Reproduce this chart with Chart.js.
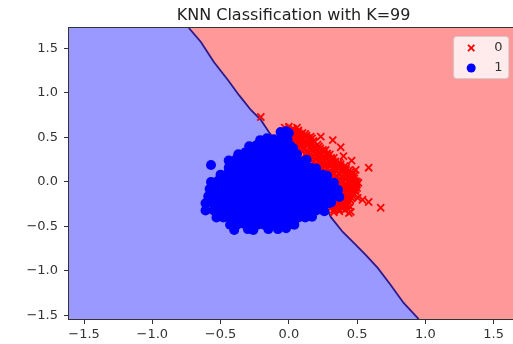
<!DOCTYPE html>
<html>
<head>
<meta charset="utf-8">
<script src="https://cdn.jsdelivr.net/npm/chart.js@4.4.0/dist/chart.umd.min.js"></script>
<style>
  html, body { margin: 0; padding: 0; background: #ffffff; overflow: hidden; }
  #wrap { position: absolute; left: 0; top: 0; width: 525px; height: 344px; }
</style>
</head>
<body>
<div id="wrap"><canvas id="knn" width="525" height="344" style="width:525px;height:344px"></canvas></div>
<script>
// ---- chart data ----
const chartTitle = 'KNN Classification with K=99';
const classLabels = ['0', '1'];

const xTicks = [-1.5, -1.0, -0.5, 0.0, 0.5, 1.0, 1.5];
const xTickLabels = ['−1.5', '−1.0', '−0.5', '0.0', '0.5', '1.0', '1.5'];
const yTicks = [-1.5, -1.0, -0.5, 0.0, 0.5, 1.0, 1.5];
const yTickLabels = ['−1.5', '−1.0', '−0.5', '0.0', '0.5', '1.0', '1.5'];

// plotted extent (feature range padded by 1 on each side)
const xRange = [-1.61, 1.68];
const yRange = [-1.54, 1.73];

// decision boundary between the two predicted regions
const boundaryX = [-0.732, -0.644, -0.549, -0.446, -0.366, -0.278, -0.205, -0.146, 0.07, 0.285, 0.307, 0.395, 0.454, 0.563, 0.651, 0.746, 0.841, 0.951];
const boundaryY = [1.73, 1.573, 1.348, 1.146, 0.978, 0.809, 0.697, 0.562, 0.12, -0.315, -0.393, -0.562, -0.652, -0.820, -0.966, -1.157, -1.360, -1.54];

// class 0 samples [x, y]
const classZero = [
  [-0.205, 0.73],
  [-0.03, 0.61], [0.0, 0.62], [0.03, 0.60], [0.06, 0.61],
  [-0.01, 0.585], [0.03, 0.59], [0.07, 0.58],
  [-0.01, 0.56], [0.03, 0.57], [0.07, 0.56], [0.10, 0.55],
  [0.01, 0.54], [0.05, 0.545], [0.09, 0.535], [0.12, 0.54],
  [0.01, 0.52], [0.05, 0.52], [0.09, 0.51], [0.13, 0.52], [0.16, 0.51],
  [0.02, 0.495], [0.06, 0.50], [0.10, 0.49], [0.14, 0.495], [0.17, 0.49],
  [0.03, 0.47], [0.07, 0.47], [0.11, 0.48], [0.15, 0.47], [0.18, 0.46],
  [0.04, 0.45], [0.08, 0.455], [0.12, 0.45], [0.16, 0.445], [0.19, 0.45],
  [0.05, 0.43], [0.09, 0.43], [0.13, 0.42], [0.17, 0.43], [0.21, 0.42],
  [0.06, 0.405], [0.10, 0.40], [0.14, 0.41], [0.18, 0.40], [0.22, 0.40],
  [0.07, 0.38], [0.11, 0.38], [0.15, 0.38], [0.19, 0.37], [0.23, 0.38], [0.25, 0.36],
  [0.09, 0.36], [0.13, 0.355], [0.17, 0.36], [0.21, 0.355], [0.25, 0.35], [0.27, 0.36],
  [0.10, 0.34], [0.14, 0.33], [0.18, 0.34], [0.22, 0.33], [0.26, 0.34], [0.28, 0.32],
  [0.12, 0.315], [0.16, 0.31], [0.20, 0.315], [0.24, 0.31], [0.28, 0.305], [0.30, 0.31],
  [0.13, 0.29], [0.17, 0.29], [0.21, 0.29], [0.25, 0.28], [0.29, 0.29], [0.31, 0.27],
  [0.15, 0.27], [0.19, 0.265], [0.23, 0.27], [0.27, 0.265], [0.31, 0.26], [0.33, 0.27],
  [0.16, 0.25], [0.20, 0.25], [0.24, 0.24], [0.28, 0.25], [0.32, 0.24], [0.34, 0.23],
  [0.18, 0.225], [0.22, 0.22], [0.26, 0.225], [0.30, 0.22], [0.34, 0.215], [0.37, 0.22],
  [0.20, 0.20], [0.24, 0.20], [0.28, 0.21], [0.32, 0.20], [0.36, 0.19], [0.38, 0.20],
  [0.22, 0.18], [0.26, 0.18], [0.30, 0.175], [0.34, 0.18], [0.38, 0.175], [0.41, 0.18],
  [0.24, 0.16], [0.28, 0.16], [0.32, 0.15], [0.36, 0.16], [0.40, 0.15], [0.42, 0.16],
  [0.26, 0.135], [0.30, 0.13], [0.34, 0.135], [0.38, 0.13], [0.42, 0.135], [0.44, 0.13],
  [0.27, 0.11], [0.31, 0.11], [0.35, 0.12], [0.39, 0.11], [0.43, 0.10], [0.45, 0.11],
  [0.29, 0.09], [0.33, 0.09], [0.37, 0.085], [0.41, 0.09], [0.45, 0.085], [0.47, 0.09],
  [0.31, 0.07], [0.35, 0.07], [0.39, 0.06], [0.43, 0.07], [0.46, 0.06], [0.48, 0.07],
  [0.33, 0.045], [0.37, 0.045], [0.41, 0.04], [0.45, 0.045], [0.48, 0.04],
  [0.34, 0.02], [0.38, 0.02], [0.42, 0.03], [0.46, 0.02], [0.49, 0.01],
  [0.36, 0.0], [0.40, 0.0], [0.44, 0.005], [0.47, 0.0], [0.50, 0.0],
  [0.37, -0.02], [0.41, -0.02], [0.45, -0.03], [0.48, -0.02], [0.50, -0.03],
  [0.38, -0.045], [0.42, -0.045], [0.46, -0.04], [0.49, -0.045],
  [0.38, -0.07], [0.42, -0.07], [0.46, -0.06], [0.50, -0.07],
  [0.38, -0.09], [0.42, -0.09], [0.46, -0.085], [0.49, -0.09],
  [0.37, -0.11], [0.41, -0.11], [0.45, -0.12], [0.49, -0.11],
  [0.36, -0.135], [0.40, -0.135], [0.44, -0.13], [0.48, -0.135],
  [0.35, -0.16], [0.39, -0.16], [0.43, -0.15], [0.47, -0.16],
  [0.35, -0.18], [0.39, -0.18], [0.43, -0.175], [0.46, -0.18],
  [0.34, -0.20], [0.38, -0.20], [0.42, -0.21], [0.45, -0.20],
  [0.33, -0.225], [0.37, -0.225], [0.41, -0.22], [0.44, -0.23],
  [0.32, -0.25], [0.36, -0.25], [0.40, -0.24], [0.43, -0.26],
  [0.32, -0.27], [0.36, -0.27], [0.40, -0.265], [0.42, -0.27],
  [0.31, -0.29], [0.35, -0.29], [0.39, -0.30],
  [0.33, -0.31], [0.37, -0.31], [0.41, -0.315],
  [0.33, -0.34], [0.37, -0.33],
  [0.234, 0.51], [0.322, 0.47], [0.38, 0.39], [0.40, 0.29], [0.46, 0.24],
  [0.49, 0.135], [0.585, 0.16], [0.51, -0.01], [0.505, -0.18], [0.54, -0.20],
  [0.585, -0.225], [0.673, -0.29], [0.454, -0.337], [0.44, -0.35], [0.45, -0.28]
];

// class 1 samples [x, y]
const classOne = [
  [-0.06, 0.56], [-0.02, 0.57], [0.0, 0.55],
  [-0.21, 0.47], [-0.16, 0.49], [-0.11, 0.48], [-0.06, 0.49], [-0.01, 0.48],
  [-0.29, 0.40], [-0.24, 0.41], [-0.19, 0.40], [-0.14, 0.41], [-0.09, 0.40], [-0.04, 0.40], [0.01, 0.41], [0.03, 0.38],
  [-0.37, 0.31], [-0.32, 0.33], [-0.27, 0.32], [-0.22, 0.32], [-0.17, 0.33], [-0.12, 0.32], [-0.07, 0.32], [-0.02, 0.32], [0.03, 0.32], [0.06, 0.31],
  [-0.44, 0.24], [-0.39, 0.25], [-0.34, 0.24], [-0.29, 0.24], [-0.24, 0.25], [-0.19, 0.24], [-0.14, 0.24], [-0.09, 0.24], [-0.04, 0.25], [0.01, 0.24], [0.06, 0.24], [0.11, 0.23], [0.13, 0.25],
  [-0.57, 0.19],
  [-0.44, 0.16], [-0.39, 0.17], [-0.34, 0.16], [-0.29, 0.16], [-0.24, 0.16], [-0.19, 0.16], [-0.14, 0.16], [-0.09, 0.16], [-0.04, 0.16], [0.01, 0.16], [0.06, 0.16], [0.11, 0.16], [0.16, 0.16], [0.20, 0.15],
  [-0.50, 0.08], [-0.45, 0.09], [-0.40, 0.08], [-0.35, 0.08], [-0.30, 0.08], [-0.25, 0.08], [-0.20, 0.08], [-0.15, 0.08], [-0.10, 0.08], [-0.05, 0.08], [0.0, 0.08], [0.05, 0.08], [0.10, 0.08], [0.15, 0.08], [0.20, 0.08], [0.25, 0.08], [0.28, 0.07],
  [-0.57, 0.0], [-0.52, 0.01], [-0.47, 0.0], [-0.42, 0.0], [-0.37, 0.0], [-0.32, 0.0], [-0.27, 0.0], [-0.22, 0.0], [-0.17, 0.0], [-0.12, 0.0], [-0.07, 0.0], [-0.02, 0.0], [0.03, 0.0], [0.08, 0.0], [0.13, 0.0], [0.18, 0.0], [0.23, 0.0], [0.28, 0.0], [0.33, -0.01],
  [-0.58, -0.08], [-0.53, -0.08], [-0.48, -0.08], [-0.43, -0.08], [-0.38, -0.08], [-0.33, -0.08], [-0.28, -0.08], [-0.23, -0.08], [-0.18, -0.08], [-0.13, -0.08], [-0.08, -0.08], [-0.03, -0.08], [0.02, -0.08], [0.07, -0.08], [0.12, -0.08], [0.17, -0.08], [0.22, -0.08], [0.27, -0.08], [0.32, -0.08], [0.36, -0.09],
  [-0.59, -0.16], [-0.55, -0.16], [-0.50, -0.16], [-0.45, -0.16], [-0.40, -0.16], [-0.35, -0.16], [-0.30, -0.16], [-0.25, -0.16], [-0.20, -0.16], [-0.15, -0.16], [-0.10, -0.16], [-0.05, -0.16], [0.0, -0.16], [0.05, -0.16], [0.10, -0.16], [0.15, -0.16], [0.20, -0.16], [0.25, -0.16], [0.30, -0.16], [0.34, -0.15], [0.37, -0.17],
  [-0.61, -0.24], [-0.56, -0.24], [-0.51, -0.24], [-0.46, -0.24], [-0.41, -0.24], [-0.36, -0.24], [-0.31, -0.24], [-0.26, -0.24], [-0.21, -0.24], [-0.16, -0.24], [-0.11, -0.24], [-0.06, -0.24], [-0.01, -0.24], [0.04, -0.24], [0.09, -0.24], [0.14, -0.24], [0.19, -0.24], [0.24, -0.24], [0.29, -0.24], [0.31, -0.23],
  [-0.61, -0.32], [-0.55, -0.32], [-0.50, -0.32], [-0.45, -0.32], [-0.40, -0.32], [-0.35, -0.32], [-0.30, -0.32], [-0.25, -0.32], [-0.20, -0.32], [-0.15, -0.32], [-0.10, -0.32], [-0.05, -0.32], [0.0, -0.32], [0.05, -0.32], [0.10, -0.32], [0.15, -0.32], [0.20, -0.32], [0.24, -0.31], [0.26, -0.33],
  [-0.53, -0.40], [-0.48, -0.40], [-0.43, -0.40], [-0.38, -0.40], [-0.33, -0.40], [-0.28, -0.40], [-0.23, -0.40], [-0.18, -0.40], [-0.13, -0.40], [-0.08, -0.40], [-0.03, -0.40], [0.02, -0.40], [0.07, -0.40], [0.12, -0.40], [0.17, -0.39],
  [-0.43, -0.48], [-0.38, -0.48], [-0.33, -0.47], [-0.28, -0.48], [-0.23, -0.48], [-0.18, -0.48], [-0.13, -0.48], [-0.08, -0.48], [-0.03, -0.48], [0.02, -0.47], [0.04, -0.48],
  [-0.40, -0.54], [-0.30, -0.53], [-0.26, -0.54], [-0.15, -0.53], [-0.08, -0.53], [-0.02, -0.52]
];

// ---- build datasets ----
const toPoints = arr => arr.map(([x, y]) => ({ x, y }));
const boundary = boundaryX.map((x, i) => ({ x, y: boundaryY[i] }));
const regionEdge = [{ x: xRange[0], y: yRange[1] }, ...boundary, { x: xRange[1], y: yRange[0] }];

const FONT = 'DejaVu Sans';

// axes frame on all four sides
const framePlugin = {
  id: 'frame',
  afterDatasetsDraw(chart) {
    const { ctx, chartArea: a } = chart;
    ctx.save();
    ctx.strokeStyle = '#333';
    ctx.lineWidth = 1;
    const l = Math.round(a.left) - 0.5, t = Math.round(a.top) - 0.5;
    const r = Math.round(a.right) + 0.5, b = Math.round(a.bottom) + 0.5;
    ctx.strokeRect(l, t, r - l, b - t);
    ctx.restore();
  }
};

// legend box in the upper-right corner of the plot
const legendPlugin = {
  id: 'cornerLegend',
  afterDraw(chart) {
    const { ctx, chartArea: a } = chart;
    const w = 55, h = 42;
    const x = a.right - 10 - w, y = a.top + 8;
    ctx.save();
    ctx.beginPath();
    ctx.roundRect(x + 0.5, y + 0.5, w, h, 3);
    ctx.fillStyle = 'rgba(255,255,255,0.8)';
    ctx.fill();
    ctx.strokeStyle = 'rgba(204,204,204,0.8)';
    ctx.lineWidth = 1;
    ctx.stroke();
    const entries = [chart.data.datasets[1], chart.data.datasets[0]];
    entries.forEach((ds, i) => {
      const cy = y + 12 + i * 20;
      const cx = x + 18;
      ctx.fillStyle = ds.backgroundColor;
      ctx.strokeStyle = ds.borderColor;
      ctx.lineWidth = ds.borderWidth;
      Chart.helpers.drawPoint(ctx, {
        pointStyle: ds.pointStyle, radius: ds.pointRadius * 0.9, rotation: 0, borderWidth: ds.borderWidth
      }, cx, cy);
      ctx.fillStyle = '#333';
      ctx.font = '13px "' + FONT + '"';
      ctx.textAlign = 'left';
      ctx.textBaseline = 'middle';
      ctx.fillText(ds.label, x + 41, cy);
    });
    ctx.restore();
  }
};

new Chart(document.getElementById('knn'), {
  type: 'scatter',
  data: {
    datasets: [
      {
        label: classLabels[1], data: toPoints(classOne),
        pointStyle: 'circle', pointRadius: 5, borderWidth: 0,
        backgroundColor: '#0000ff', borderColor: '#0000ff', order: 0
      },
      {
        label: classLabels[0], data: toPoints(classZero),
        pointStyle: 'crossRot', pointRadius: 5, borderWidth: 1.8,
        backgroundColor: '#ff0000', borderColor: '#ff0000', order: 1
      },
      {
        label: 'boundary', data: boundary, showLine: true, pointRadius: 0,
        borderColor: 'rgb(45,25,140)', borderWidth: 1.8, fill: false, order: 2
      },
      {
        label: 'region 1', data: regionEdge, showLine: true, pointRadius: 0,
        borderWidth: 0, borderColor: 'rgba(0,0,0,0)', fill: 'start', backgroundColor: '#9999ff', order: 3
      },
      {
        label: 'region 0', data: regionEdge, showLine: true, pointRadius: 0,
        borderWidth: 0, borderColor: 'rgba(0,0,0,0)', fill: 'end', backgroundColor: '#ff9999', order: 4
      }
    ]
  },
  options: {
    responsive: false,
    animation: false,
    devicePixelRatio: 1,
    layout: { padding: 0 },
    plugins: {
      legend: { display: false },
      tooltip: { enabled: false },
      title: {
        display: true, text: chartTitle, color: '#222', fullSize: false,
        font: { family: FONT, size: 16, weight: 'normal', lineHeight: 1.2 },
        padding: { top: 6, bottom: 2.8 }
      }
    },
    scales: {
      x: {
        type: 'linear', min: xRange[0], max: xRange[1],
        afterBuildTicks: s => { s.ticks = xTicks.map(v => ({ value: v })); },
        afterFit: s => { s.height = 25; },
        ticks: {
          callback: v => xTickLabels[xTicks.indexOf(v)],
          color: '#333', font: { family: FONT, size: 13 }, padding: 3,
          maxRotation: 0, autoSkip: false
        },
        grid: { display: true, drawOnChartArea: false, drawTicks: true, tickLength: 5, color: '#333' },
        border: { display: false }
      },
      y: {
        type: 'linear', min: yRange[0], max: yRange[1],
        afterBuildTicks: s => { s.ticks = yTicks.map(v => ({ value: v })); },
        afterFit: s => { s.width = 69; },
        ticks: {
          callback: v => yTickLabels[yTicks.indexOf(v)],
          color: '#333', font: { family: FONT, size: 13 }, padding: 6,
          autoSkip: false
        },
        grid: { display: true, drawOnChartArea: false, drawTicks: true, tickLength: 5, color: '#333' },
        border: { display: false }
      }
    }
  },
  plugins: [framePlugin, legendPlugin]
});
</script>
</body>
</html>
